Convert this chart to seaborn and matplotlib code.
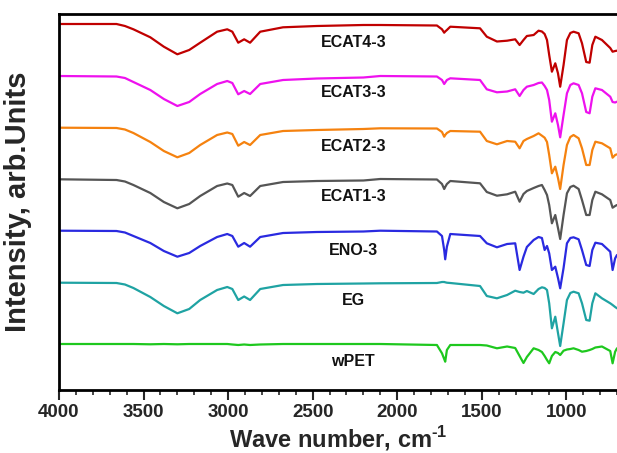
import numpy as np
import pandas as pd
import matplotlib
matplotlib.use("Agg")
import matplotlib.pyplot as plt
import seaborn as sns
from matplotlib.ticker import MultipleLocator

# ---------------- data ----------------
wavenumber = [4000, 3660, 3610, 3560, 3460, 3380, 3300, 3230, 3165, 3065, 3005,
              2975, 2940, 2905, 2870, 2810, 2675, 2475, 2200, 2100, 1765,
              1735, 1722, 1716, 1706, 1686, 1510, 1470, 1410, 1350, 1302,
              1276, 1253, 1233, 1193, 1164, 1144, 1128, 1114, 1101, 1085,
              1065, 1049, 1036, 1016, 996, 976, 957, 927, 907, 882,
              862, 846, 828, 789, 740, 726, 711, 700]

ecat4_3 = [376, 376, 374, 370.7, 362.7, 353.3, 345.7, 350, 357.3, 368.3, 370.7,
           368.3, 357.3, 360.7, 357.3, 368.3, 372.7, 374, 375, 375, 374.5,
           370.7, 367.3, 368.5, 370, 373.3, 371.7, 363.3, 358.5, 359.3, 360.7,
           355, 360, 364, 365, 369.3, 368.5, 366, 360, 345, 328.3,
           336.7, 326.7, 313.3, 335, 360, 367, 368.3, 366.7, 356.7, 338,
           337.3, 355, 363.3, 360, 352, 348.3, 349, 349.3]

ecat3_3 = [324, 323.5, 322, 318, 310, 301, 294, 298, 306, 316, 319,
           317, 305.7, 309, 306, 316, 320, 321.5, 322.5, 324, 323.5,
           320, 316, 317.5, 320, 321.7, 320, 310.7, 307.7, 308.5, 310.7,
           304, 310, 313.3, 315, 317, 317.5, 314, 310, 300, 278.3,
           286.7, 275, 262.7, 285, 306.7, 315, 316.7, 315, 306.7, 288,
           286.7, 303.3, 311.7, 310, 303.3, 298, 297.5, 298.3]

ecat2_3 = [272.3, 272, 270.5, 267, 258, 249, 242.7, 247, 255, 265, 267.5,
           266, 254.3, 258, 255, 265, 269, 270, 271, 271.7, 271.5,
           268, 263.3, 265, 267, 269, 268.3, 259, 255.7, 259, 258.3,
           251.7, 259, 261, 264, 266.7, 264.3, 262.3, 258, 245, 226.7,
           233.3, 222, 211, 235, 255, 263, 265, 261.7, 251.7, 235,
           235, 250, 258.3, 256.7, 251.7, 242.3, 245, 245.7]

ecat1_3 = [220.7, 220, 218.5, 215, 207, 198, 191.7, 196, 204, 214, 216.5,
           215, 203.3, 207, 204, 214, 218, 219, 219.5, 221, 220.5,
           216, 211, 213, 216, 219, 216.7, 208, 204.3, 205.7, 208.3,
           198.3, 206, 209, 212, 214, 215, 210, 205, 195, 176.7,
           185, 172, 161, 185, 206.7, 213, 214.3, 211, 200, 185,
           185, 200, 208.3, 205.7, 200, 192.3, 194, 195]

eno_3 = [169.3, 169, 167.5, 164, 157, 149, 143.3, 147, 154, 163, 166,
         164, 153.3, 157, 153.3, 163, 167, 168, 168.5, 169.3, 168.5,
         164, 150, 140.7, 153.3, 166, 164, 156.7, 152.7, 156, 156.7,
         130, 143.3, 153, 160, 163, 162, 150, 154, 146.7, 130,
         133.3, 122, 111.7, 132, 156.7, 162, 162.7, 160.7, 150, 135,
         134, 150, 157.3, 156, 148.3, 130, 141.7, 145]

eg = [117.3, 117, 115.5, 112, 103, 94, 86.7, 91, 100, 110, 113,
      111, 100, 103.5, 100, 111, 115, 116, 116.5, 116.7, 117,
      118, 118, 117.7, 117.3, 117, 114, 104, 101.7, 105, 109.3,
      108, 107.3, 109, 106, 111, 112.7, 112, 110, 96.7, 71.7,
      83.3, 67, 54, 76.7, 100, 107, 108.3, 106.7, 96.7, 80,
      79.3, 96.7, 106.7, 101.7, 96.7, 95, 93, 91.7]

wpet = [56, 56, 56, 56, 55.7, 56, 55.7, 56, 56, 56, 56,
        55.5, 55, 55.5, 55, 55.5, 56, 56, 56, 56, 55,
        46.7, 41, 38.3, 50, 55, 55, 54.5, 51.7, 53.5, 52,
        44, 37, 43, 51.7, 50, 48, 44, 40, 36.7, 44,
        48, 47, 45, 49.3, 50.5, 51, 51.7, 50, 48.3, 49,
        50, 51, 52.5, 53.5, 49, 36.7, 48.3, 51.7]

sample_names = ["ECAT4-3", "ECAT3-3", "ECAT2-3", "ECAT1-3", "ENO-3", "EG", "wPET"]
series = [ecat4_3, ecat3_3, ecat2_3, ecat1_3, eno_3, eg, wpet]

# ---------------- style ----------------
colors = ["#C00000", "#EE11EE", "#F5820F", "#555555", "#2A2AE0", "#1FA3A3", "#1EC81E"]
label_y = [357, 307.3, 253.3, 203.3, 149.3, 99.3, 38.3]
label_x = 2260

sns.set_style("ticks")
plt.rcParams["font.family"] = ["Liberation Sans", "DejaVu Sans"]
plt.rcParams["font.weight"] = "bold"
plt.rcParams["mathtext.fontset"] = "custom"
plt.rcParams["mathtext.rm"] = "Liberation Sans:bold"
plt.rcParams["mathtext.bf"] = "Liberation Sans:bold"

df = pd.concat(
    [pd.DataFrame({"wavenumber": wavenumber, "intensity": vals, "sample": name})
     for name, vals in zip(sample_names, series)],
    ignore_index=True,
)

W, H = 617, 453
fig = plt.figure(figsize=(W / 100, H / 100), dpi=100)
ax = fig.add_axes([59 / W, 1 - 390 / H, 1 - 59 / W, (390 - 14) / H])

sns.lineplot(data=df, x="wavenumber", y="intensity", hue="sample",
             palette=dict(zip(sample_names, colors)), estimator=None,
             sort=False, linewidth=1.6, legend=False, ax=ax)

ax.set_xlim(4000, 700)
ax.set_ylim(10, 386)
ax.set_yticks([])
ax.xaxis.set_major_locator(MultipleLocator(500))
ax.xaxis.set_minor_locator(MultipleLocator(100))
ax.tick_params(axis="x", which="major", direction="out", length=7, width=1.5,
               labelsize=13.5, pad=3)
ax.tick_params(axis="x", which="minor", direction="out", length=3.5, width=1.2)
for lab in ax.get_xticklabels():
    lab.set_fontweight("bold")

for side in ["left", "bottom", "top"]:
    ax.spines[side].set_linewidth(2)
    ax.spines[side].set_color("black")
ax.spines["right"].set_visible(False)

for name, y in zip(sample_names, label_y):
    ax.text(label_x, y, name, ha="center", va="center", fontsize=11.5,
            fontweight="bold", color="#111111")

ax.set_xlabel(r"Wave number, cm$^{\text{-1}}$", fontsize=17, fontweight="bold",
              labelpad=2)
ax.set_ylabel("Intensity, arb.Units", fontsize=21, fontweight="bold")
ax.yaxis.set_label_coords(-0.048, 0.5)

fig.savefig("out.png", dpi=100)
